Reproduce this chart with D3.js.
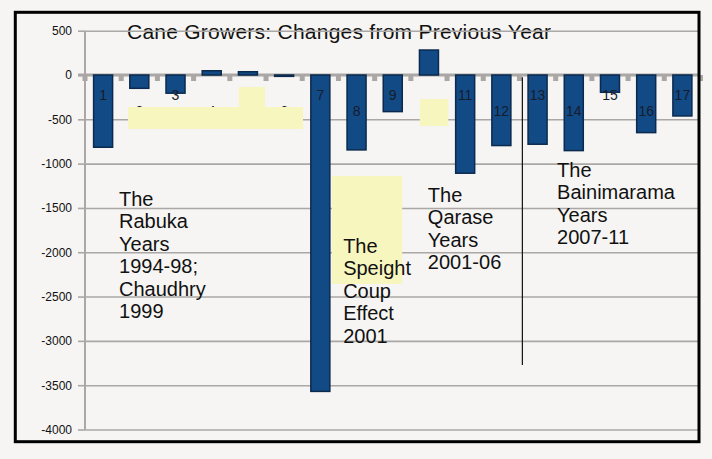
<!DOCTYPE html>
<html>
<head>
<meta charset="utf-8">
<script src="https://cdn.jsdelivr.net/npm/d3@7"></script>
<style>
  html, body { margin: 0; padding: 0; background: #f6f5f4; }
  svg { display: block; font-family: "Liberation Sans", Arial, sans-serif; }
</style>
</head>
<body>
<div id="chart"></div>
<script>
// Cane growers: change in number from the previous year
const categories = ['1', '2', '3', '4', '5', '6', '7', '8', '9', '10', '11', '12', '13', '14', '15', '16', '17'];
const changes = [-815, -150, -205, 48, 37, -15, -3570, -845, -413, 282, -1108, -796, -781, -853, -195, -650, -462];
const yTicks = [500, 0, -500, -1000, -1500, -2000, -2500, -3000, -3500, -4000];

const titleText = 'Cane Growers: Changes from Previous Year';
const eraNotes = [
    ['The', 'Rabuka', 'Years', '1994-98;', 'Chaudhry', '1999'],
    ['The', 'Speight', 'Coup', 'Effect', '2001'],
    ['The', 'Qarase', 'Years', '2001-06'],
    ['The', 'Bainimarama', 'Years', '2007-11']
];

const width = 712;
const height = 459;

const svg = d3.select('#chart')
    .append('svg')
    .attr('width', width)
    .attr('height', height);

svg.append('rect')
    .attr('width', width)
    .attr('height', height)
    .attr('fill', '#f6f5f4');

// Scales
const x = d3.scaleBand()
    .domain(categories)
    .range([85, 700.5])
    .paddingInner(0.475)
    .paddingOuter(0.2375);

const y = d3.scaleLinear()
    .domain([-4000, 500])
    .range([429.5, 30.7]);

// position along the category axis in "category steps" from the left edge
const xPos = u => x.range()[0] + u * x.step();

const gridColor = '#aaa7a5';

// Title (gridline runs through it in the original)
svg.append('text')
    .attr('x', 127)
    .attr('y', 39)
    .attr('textLength', 424)
    .style('font-size', '21px')
    .style('fill', '#111')
    .text(titleText);

// Gridlines + y axis
const yAxis = d3.axisLeft(y)
    .tickValues(yTicks)
    .tickSize(7)
    .tickPadding(6)
    .tickFormat(d => d);

const gy = svg.append('g')
    .attr('transform', 'translate(85,0)')
    .call(yAxis);

gy.select('.domain')
    .attr('stroke', gridColor)
    .attr('stroke-width', 2)
    .attr('d', `M0,${y(500)}V${y(-4000)}`);

gy.selectAll('.tick line')
    .attr('stroke', gridColor)
    .attr('stroke-width', 1.6);

gy.selectAll('.tick text')
    .style('font-size', '12px')
    .style('fill', '#111');

gy.selectAll('.tick')
    .filter(d => d !== 0)
    .append('line')
    .attr('x1', 0)
    .attr('x2', 613)
    .attr('stroke', gridColor)
    .attr('stroke-width', 1.6);

// Pale yellow patches pasted over some labels
const patches = [
    { u0: 1.19, u1: 6.02, v0: -361, v1: -609 },
    { u0: 4.25, u1: 4.97, v0: -135, v1: -361 },
    { u0: 9.25, u1: 10.03, v0: -271, v1: -575 },
    { u0: 6.82, u1: 8.76, v0: -1140, v1: -2358 }
];

svg.append('g')
    .selectAll('rect')
    .data(patches)
    .join('rect')
    .attr('x', d => xPos(d.u0))
    .attr('y', d => y(d.v0))
    .attr('width', d => xPos(d.u1) - xPos(d.u0))
    .attr('height', d => y(d.v1) - y(d.v0))
    .attr('fill', '#f8f6bf');

// Zero line with category ticks
svg.append('line')
    .attr('x1', 78)
    .attr('x2', 698)
    .attr('y1', y(0))
    .attr('y2', y(0))
    .attr('stroke', gridColor)
    .attr('stroke-width', 3);

svg.append('g')
    .selectAll('rect')
    .data(d3.range(categories.length + 1))
    .join('rect')
    .attr('x', k => xPos(k) - 2.5)
    .attr('y', y(0))
    .attr('width', 5)
    .attr('height', 6)
    .attr('fill', gridColor);

// Bars
const bars = svg.append('g')
    .selectAll('rect')
    .data(changes)
    .join('rect')
    .attr('x', (d, i) => x(categories[i]))
    .attr('y', d => y(Math.max(0, d)))
    .attr('width', x.bandwidth())
    .attr('height', d => Math.max(1, Math.abs(y(d) - y(0))))
    .attr('fill', '#124a86')
    .attr('stroke', '#0b2a4d')
    .attr('stroke-width', 1.5);

// Re-draw the patches that sit over the staggered labels
const labelG = svg.append('g');
labelG.selectAll('text')
    .data(categories)
    .join('text')
    .attr('x', d => x(d) + x.bandwidth() / 2)
    .attr('y', (d, i) => y(0) + (i % 2 === 0 ? 24.5 : 41))
    .attr('text-anchor', 'middle')
    .style('font-size', '14px')
    .style('fill', '#161c2a')
    .text(d => d);

svg.append('g')
    .selectAll('rect')
    .data(patches.slice(0, 3))
    .join('rect')
    .attr('x', d => xPos(d.u0))
    .attr('y', d => y(d.v0))
    .attr('width', d => xPos(d.u1) - xPos(d.u0))
    .attr('height', d => y(d.v1) - y(d.v0))
    .attr('fill', '#f8f6bf');

// Separator between the Qarase and Bainimarama years
svg.append('line')
    .attr('x1', xPos(12.08))
    .attr('x2', xPos(12.08))
    .attr('y1', y(-25))
    .attr('y2', y(-3272))
    .attr('stroke', '#111')
    .attr('stroke-width', 1.2);

// Era annotations
const notePlaces = [
    { u: 0.94, v: -1478 },
    { u: 7.13, v: -2008 },
    { u: 9.47, v: -1433 },
    { u: 13.04, v: -1150 }
];

eraNotes.forEach((lines, i) => {
    const t = svg.append('text')
        .attr('x', xPos(notePlaces[i].u))
        .attr('y', y(notePlaces[i].v))
        .style('font-size', '20px')
        .style('fill', '#111');
    t.selectAll('tspan')
        .data(lines)
        .join('tspan')
        .attr('x', xPos(notePlaces[i].u))
        .attr('dy', (d, j) => j === 0 ? 0 : 22.4)
        .text(d => d);
});

// Outer frame
svg.append('rect')
    .attr('x', 15.3)
    .attr('y', 12.3)
    .attr('width', 683.7)
    .attr('height', 429.4)
    .attr('fill', 'none')
    .attr('stroke', '#000')
    .attr('stroke-width', 3);
</script>
</body>
</html>
